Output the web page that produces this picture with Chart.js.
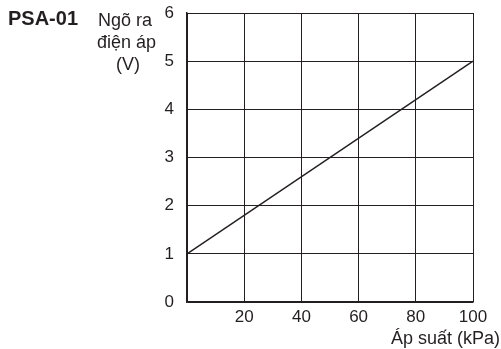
<!DOCTYPE html>
<html>
<head>
<meta charset="utf-8">
<script src="https://cdn.jsdelivr.net/npm/chart.js@4"></script>
<style>
  html, body { margin: 0; padding: 0; background: #fff; }
  canvas { display: block; }
</style>
</head>
<body>
<canvas id="chart" width="501" height="349"></canvas>
<script>
const pressure = [0, 100];
const voltage = [1, 5];
const xTicks = [0, 20, 40, 60, 80, 100];
const yTicks = [0, 1, 2, 3, 4, 5, 6];

const FONT = "'Liberation Sans', Arial, sans-serif";
const INK = '#231f20';

const extraText = {
    id: 'extraText',
    afterDraw(chart) {
        const ctx = chart.ctx;
        ctx.save();
        ctx.fillStyle = INK;
        ctx.textBaseline = 'alphabetic';
        ctx.font = 'bold 20px ' + FONT;
        ctx.textAlign = 'left';
        ctx.fillText('PSA-01', 8, 25);
        ctx.font = '18px ' + FONT;
        ctx.fillText('Ngõ ra', 98, 26);
        ctx.fillText('điện áp', 97, 48);
        ctx.textAlign = 'center';
        ctx.fillText('(V)', 128, 70);
        ctx.textAlign = 'right';
        ctx.fillText('Áp suất (kPa)', 500, 344);
        ctx.restore();
    }
};

function noPad(s) {
    s.paddingTop = 0;
    s.paddingBottom = 0;
    s.paddingLeft = 0;
    s.paddingRight = 0;
}

new Chart(document.getElementById('chart'), {
    type: 'scatter',
    data: {
        datasets: [{
            data: pressure.map((p, i) => ({ x: p, y: voltage[i] })),
            showLine: true,
            borderColor: INK,
            borderWidth: 1.5,
            pointRadius: 0
        }]
    },
    options: {
        responsive: false,
        animation: false,
        layout: { padding: { left: 157, right: 28, top: 13, bottom: 17 } },
        plugins: { legend: { display: false }, tooltip: { enabled: false } },
        scales: {
            x: {
                type: 'linear',
                min: 0, max: 100,
                afterBuildTicks: s => { s.ticks = xTicks.map(v => ({ value: v })); },
                afterFit: s => { s.height = 30; noPad(s); },
                grid: { color: INK, lineWidth: 1, drawTicks: false },
                border: { color: INK, width: 1.5 },
                ticks: {
                    color: INK,
                    font: { family: FONT, size: 17 },
                    padding: 5,
                    maxRotation: 0,
                    callback: v => v === 0 ? '' : v
                }
            },
            y: {
                min: 0, max: 6,
                afterBuildTicks: s => { s.ticks = yTicks.map(v => ({ value: v })); },
                afterFit: s => { s.width = 30; noPad(s); },
                grid: { color: INK, lineWidth: 1, drawTicks: false },
                border: { color: INK, width: 1.5 },
                ticks: {
                    color: INK,
                    font: { family: FONT, size: 17 },
                    padding: 13
                }
            }
        }
    },
    plugins: [extraText]
});
</script>
</body>
</html>
